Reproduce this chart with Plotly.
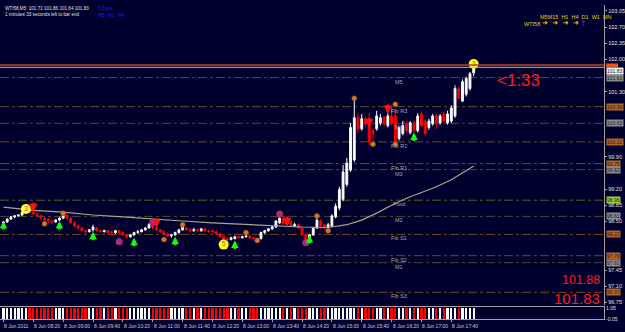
import plotly.graph_objects as go

BG = "#00002e"

# ---------------- data ----------------
bar_open = [98.43, 98.49, 98.55, 98.60, 98.62, 98.64, 98.70, 98.74, 98.70, 98.66,
            98.62, 98.57, 98.55, 98.51, 98.49, 98.53, 98.57, 98.64, 98.57, 98.47,
            98.40, 98.36, 98.30, 98.28, 98.32, 98.36, 98.30, 98.28, 98.30, 98.28,
            98.26, 98.30, 98.26, 98.21, 98.17, 98.21, 98.26, 98.28, 98.32, 98.36,
            98.43, 98.36, 98.32, 98.28, 98.23, 98.19, 98.21, 98.26, 98.32, 98.36,
            98.32, 98.30, 98.32, 98.30, 98.34, 98.30, 98.30, 98.28, 98.23, 98.17,
            98.13, 98.11, 98.13, 98.17, 98.15, 98.17, 98.19, 98.15, 98.13, 98.13,
            98.26, 98.30, 98.34, 98.38, 98.47, 98.57, 98.45, 98.49, 98.40, 98.43,
            98.36, 98.21, 98.13, 98.21, 98.36, 98.51, 98.43, 98.36, 98.40, 98.60,
            98.79, 98.98, 99.30, 99.61, 99.83, 100.74, 100.50, 100.72, 100.67, 100.46,
            100.50, 100.63, 100.74, 100.57, 100.78, 100.78, 100.29, 100.40, 100.61, 100.42,
            100.63, 100.46, 100.82, 100.67, 100.53, 100.61, 100.78, 100.63, 100.82, 100.63,
            100.67, 100.78, 101.37, 101.10, 101.25, 101.37, 101.71]
bar_high = [98.51, 98.57, 98.62, 98.64, 98.66, 98.72, 98.79, 98.77, 98.72, 98.68,
            98.64, 98.60, 98.57, 98.53, 98.55, 98.60, 98.68, 98.66, 98.60, 98.49,
            98.43, 98.38, 98.32, 98.34, 98.43, 98.38, 98.32, 98.32, 98.32, 98.30,
            98.32, 98.32, 98.28, 98.23, 98.23, 98.28, 98.32, 98.34, 98.38, 98.47,
            98.45, 98.38, 98.34, 98.30, 98.26, 98.23, 98.28, 98.34, 98.40, 98.38,
            98.34, 98.36, 98.34, 98.36, 98.36, 98.32, 98.32, 98.30, 98.26, 98.19,
            98.15, 98.17, 98.19, 98.19, 98.19, 98.21, 98.21, 98.17, 98.15, 98.28,
            98.32, 98.36, 98.40, 98.53, 98.64, 98.60, 98.51, 98.51, 98.47, 98.45,
            98.38, 98.23, 98.23, 98.38, 98.57, 98.55, 98.45, 98.47, 98.66, 98.89,
            99.25, 99.72, 99.87, 100.63, 101.14, 100.84, 100.82, 100.76, 100.84, 100.50,
            100.89, 100.82, 100.78, 100.84, 100.99, 100.93, 100.55, 100.67, 100.65, 100.67,
            100.67, 100.84, 100.87, 100.72, 100.72, 100.82, 100.82, 100.82, 100.87, 100.89,
            101.01, 101.44, 101.40, 101.57, 101.63, 101.73, 101.86]
bar_low = [98.40, 98.47, 98.53, 98.57, 98.60, 98.62, 98.68, 98.68, 98.64, 98.60,
           98.55, 98.51, 98.47, 98.45, 98.47, 98.51, 98.55, 98.55, 98.45, 98.38,
           98.32, 98.28, 98.23, 98.26, 98.28, 98.28, 98.26, 98.26, 98.23, 98.23,
           98.23, 98.21, 98.19, 98.13, 98.15, 98.19, 98.23, 98.26, 98.30, 98.34,
           98.34, 98.30, 98.26, 98.19, 98.17, 98.15, 98.19, 98.23, 98.30, 98.30,
           98.28, 98.28, 98.28, 98.28, 98.28, 98.26, 98.26, 98.21, 98.15, 98.04,
           98.06, 98.09, 98.11, 98.13, 98.13, 98.15, 98.13, 98.11, 98.09, 98.11,
           98.23, 98.28, 98.32, 98.36, 98.45, 98.43, 98.43, 98.38, 98.38, 98.34,
           98.19, 98.06, 98.11, 98.19, 98.34, 98.38, 98.34, 98.32, 98.38, 98.57,
           98.74, 98.94, 99.25, 99.57, 99.78, 100.42, 100.46, 100.55, 100.14, 100.19,
           100.46, 100.57, 100.55, 100.53, 100.57, 100.17, 100.25, 100.36, 100.42, 100.38,
           100.40, 100.42, 100.53, 100.36, 100.48, 100.57, 100.50, 100.59, 100.63, 100.59,
           100.63, 100.74, 101.14, 101.08, 101.20, 101.33, 101.64]
bar_close = [98.49, 98.55, 98.60, 98.62, 98.64, 98.70, 98.74, 98.70, 98.66, 98.62,
             98.57, 98.53, 98.51, 98.49, 98.53, 98.57, 98.64, 98.57, 98.47, 98.40,
             98.36, 98.30, 98.28, 98.32, 98.38, 98.30, 98.28, 98.30, 98.26, 98.26,
             98.30, 98.26, 98.21, 98.17, 98.21, 98.26, 98.28, 98.32, 98.36, 98.43,
             98.36, 98.32, 98.28, 98.23, 98.19, 98.21, 98.26, 98.32, 98.38, 98.32,
             98.30, 98.32, 98.30, 98.34, 98.30, 98.28, 98.28, 98.23, 98.17, 98.09,
             98.11, 98.15, 98.17, 98.15, 98.17, 98.19, 98.15, 98.13, 98.11, 98.26,
             98.30, 98.34, 98.38, 98.51, 98.57, 98.45, 98.49, 98.40, 98.43, 98.36,
             98.21, 98.11, 98.21, 98.36, 98.53, 98.40, 98.36, 98.43, 98.62, 98.83,
             99.19, 99.57, 99.76, 100.53, 100.74, 100.50, 100.72, 100.61, 100.21, 100.40,
             100.78, 100.74, 100.61, 100.78, 100.63, 100.21, 100.53, 100.57, 100.46, 100.63,
             100.46, 100.78, 100.57, 100.40, 100.67, 100.78, 100.63, 100.78, 100.67, 100.82,
             100.95, 101.37, 101.16, 101.52, 101.59, 101.69, 101.83]

# moving average, read at a few bars
ma_bar = [0, 8, 16, 24, 32, 40, 48, 56, 64, 72, 80, 86, 88, 92, 96, 100, 104, 108, 112, 116, 120, 124, 126]
ma_val = [98.81, 98.74, 98.70, 98.64, 98.60, 98.55, 98.51, 98.47, 98.44, 98.40, 98.38, 98.37,
          98.38, 98.43, 98.53, 98.68, 98.85, 99.00, 99.13, 99.25, 99.40, 99.59, 99.70]

# pivot levels
piv_names = ["M5", "Fib R3", "M4", "Fib R2", "Fib R1", "M3", "Pivot", "M2", "Fib S1", "Fib S2", "M1", "Fib S3"]
piv_values = [101.61, 100.98, 100.62, 100.22, 99.75, 99.62, 98.96, 98.61, 98.22, 97.76, 97.61, 96.97]
piv_kind = ["m", "fib", "m", "fib", "fib", "m", "p", "m", "fib", "fib", "m", "fib"]

# markers
orange_bar = [11, 16, 43, 48, 65, 68, 84, 87, 94, 99, 105, 105]
orange_val = [98.45, 98.68, 98.11, 98.43, 98.26, 98.09, 98.62, 98.30, 101.16, 100.17, 101.03, 100.17]
magenta_bar = [31, 40, 74, 81]
magenta_val = [98.06, 98.49, 98.66, 98.04]
yellow_bar = [6, 59, 126]
yellow_val = [98.77, 98.00, 101.90]
yellow_txt = ["3", "5", "3"]
buy_bar = [0, 15, 24, 35, 46, 62, 82, 110]
buy_val = [98.51, 98.51, 98.28, 98.15, 98.17, 98.09, 98.21, 100.42]
sell_bar = [8, 41, 76, 98, 103]
sell_val = [98.70, 98.36, 98.40, 100.53, 100.82]

# axis labels (labels hidden under the level boxes are left out)
price_ticks = [103.05, 102.70, 102.35, 102.00, 101.30, 99.90, 99.20, 98.85, 98.50,
               97.45, 97.10, 96.75]
time_bar = [0, 8, 16, 24, 32, 40, 48, 56, 64, 72, 80, 88, 96, 104, 112, 120]
time_txt = ["8 Jun 2011", "8 Jun 08:20", "8 Jun 09:00", "8 Jun 09:40", "8 Jun 10:20", "8 Jun 11:00",
            "8 Jun 11:40", "8 Jun 12:20", "8 Jun 13:00", "8 Jun 13:40", "8 Jun 14:20", "8 Jun 15:00",
            "8 Jun 15:40", "8 Jun 16:20", "8 Jun 17:00", "8 Jun 17:40"]
bid = 101.83
ask = 101.88

# ---------------- figure ----------------
n = len(bar_close)
idx = list(range(n))
XD = [0, 607 / 625]
XR = [-0.93, 160.94]

fig = go.Figure()
fig.add_trace(go.Candlestick(
    x=idx, open=bar_open, high=bar_high, low=bar_low, close=bar_close,
    increasing=dict(line=dict(color="#ffffff", width=1), fillcolor="#ffffff"),
    decreasing=dict(line=dict(color="#ff0000", width=1), fillcolor="#ff0000"),
    whiskerwidth=0, showlegend=False, hoverinfo="skip", xaxis="x", yaxis="y"))

fig.add_trace(go.Scatter(x=ma_bar, y=ma_val, mode="lines",
                         line=dict(color="#a9a58c", width=1.2), showlegend=False, hoverinfo="skip"))

fig.add_trace(go.Scatter(x=orange_bar, y=orange_val, mode="markers",
                         marker=dict(size=5, color="#d07a30", line=dict(color="#8a4a10", width=0.6)),
                         showlegend=False, hoverinfo="skip"))
fig.add_trace(go.Scatter(x=magenta_bar, y=magenta_val, mode="markers",
                         marker=dict(size=7, color="#a82c78", line=dict(width=0)),
                         showlegend=False, hoverinfo="skip"))
fig.add_trace(go.Scatter(x=yellow_bar, y=yellow_val, mode="markers+text", text=yellow_txt,
                         textposition="middle center",
                         textfont=dict(size=7, color="#e04060", family="Liberation Sans"),
                         marker=dict(size=10, color="#ffff20", line=dict(width=0)),
                         showlegend=False, hoverinfo="skip"))

# indicator panel
ind_val = [1] * n
ind_col = ["#ffffff" if c >= o else "#ff0000" for o, c in zip(bar_open, bar_close)]
fig.add_trace(go.Bar(x=idx, y=ind_val, marker=dict(color=ind_col, line=dict(width=0)), width=0.6,
                     xaxis="x2", yaxis="y2", showlegend=False, hoverinfo="skip"))

shapes = []
ann = []
LBL = "Liberation Sans"

kind_line = {"fib": "#6e4a22", "m": "#4a4a3c", "p": "#56661a"}
kind_box = {"fib": "#b8622a", "m": "#8a8a8a", "p": "#a0d030"}
for name, v, k in zip(piv_names, piv_values, piv_kind):
    shapes.append(dict(type="line", xref="x domain", yref="y", x0=0, x1=1, y0=v, y1=v,
                       line=dict(color=kind_line[k], width=1, dash="dashdot"), layer="below"))
    ann.append(dict(x=106, y=v, xref="x", yref="y", text=name, showarrow=False,
                    xanchor="center", yanchor="top", yshift=1,
                    font=dict(size=5.5, color="#a8a8a8", family=LBL)))
    ann.append(dict(x=609 / 625, y=v, xref="paper", yref="y", text=f"{v:.2f}", showarrow=False,
                    xanchor="left", yanchor="middle", bgcolor=kind_box[k], borderpad=0,
                    font=dict(size=5, color="#202020", family=LBL)))

# bid / ask lines and markers on the price scale
shapes.append(dict(type="line", xref="x domain", yref="y", x0=0, x1=1, y0=ask, y1=ask,
                   line=dict(color="#b8401a", width=1.5)))
shapes.append(dict(type="line", xref="x domain", yref="y", x0=0, x1=1, y0=bid, y1=bid,
                   line=dict(color="#b8b8b8", width=1)))
shapes.append(dict(type="rect", xref="paper", yref="y", x0=609 / 625, x1=621 / 625,
                   y0=bid, y1=ask + 0.03, fillcolor="#e05a20", line=dict(width=0), layer="above"))
ann.append(dict(x=609 / 625, y=bid + 0.015, xref="paper", yref="y", text=f"{bid:.2f}", showarrow=False,
                xanchor="left", yanchor="top", bgcolor="#f0f0f0", borderpad=0,
                font=dict(size=5, color="#202020", family=LBL)))

# arrows
for b, v in zip(buy_bar, buy_val):
    ann.append(dict(x=b, y=v, xref="x", yref="y", text="", showarrow=True, ax=0, ay=10,
                    arrowhead=2, arrowsize=0.6, arrowwidth=2.5, arrowcolor="#10ff10", standoff=0))
for b, v in zip(sell_bar, sell_val):
    ann.append(dict(x=b, y=v, xref="x", yref="y", text="", showarrow=True, ax=0, ay=-11,
                    arrowhead=2, arrowsize=0.65, arrowwidth=2.6, arrowcolor="#ff1010", standoff=0))

# time labels
for b, t in zip(time_bar, time_txt):
    ann.append(dict(x=b, y=1 - 324 / 332, xref="x2", yref="paper", text=t, showarrow=False,
                    xanchor="left", yanchor="top", xshift=-1,
                    font=dict(size=5, color="#d0d0d0", family=LBL)))

# texts
ann += [
    dict(x=3 / 625, y=1 - 1 / 332, xref="paper", yref="paper",
         text="WTI58,M5  101.71 101.86 101.64 101.83", showarrow=False, xanchor="left", yanchor="top",
         font=dict(size=4.6, color="#e0e0e0", family=LBL)),
    dict(x=3 / 625, y=1 - 7 / 332, xref="paper", yref="paper",
         text="1 minutes 33 seconds left to bar end", showarrow=False, xanchor="left", yanchor="top",
         font=dict(size=4.6, color="#e0e0e0", family=LBL)),
    dict(x=96 / 625, y=1 - 1 / 332, xref="paper", yref="paper", text="5 Days", showarrow=False,
         xanchor="left", yanchor="top", font=dict(size=4.6, color="#2020e0", family=LBL)),
    dict(x=96 / 625, y=1 - 8 / 332, xref="paper", yref="paper", text="M5   H1   H4", showarrow=False,
         xanchor="left", yanchor="top", font=dict(size=4.6, color="#2020e0", family=LBL)),
    dict(x=541 / 625, y=1 - 9 / 332, xref="paper", yref="paper", text="M5M15  H1  H4  D1  W1  MN",
         showarrow=False, xanchor="left", yanchor="top", font=dict(size=5.5, color="#e8d020", family=LBL)),
    dict(x=525 / 625, y=1 - 16 / 332, xref="paper", yref="paper", text="WTI58", showarrow=False,
         xanchor="left", yanchor="top", font=dict(size=5.5, color="#e8d020", family=LBL)),
    dict(x=543 / 625, y=1 - 14 / 332, xref="paper", yref="paper", text="➜  ➜  ➜  ➜", showarrow=False,
         xanchor="left", yanchor="top", font=dict(size=7, color="#f0d020", family="DejaVu Sans")),
    dict(x=581 / 625, y=1 - 14 / 332, xref="paper", yref="paper", text="↑", showarrow=False,
         xanchor="left", yanchor="top", font=dict(size=8, color="#2040ff", family="DejaVu Sans")),
    dict(x=497 / 625, y=1 - 67 / 332, xref="paper", yref="paper", text="<1:33", showarrow=False,
         xanchor="left", yanchor="top", font=dict(size=17, color="#ff1a1a", family=LBL)),
    dict(x=604 / 625, y=1 - 274 / 332, xref="paper", yref="paper", text=f"{ask:.2f}", showarrow=False,
         xanchor="right", yanchor="top", borderpad=0, font=dict(size=12.5, color="#ff1a1a", family=LBL)),
    dict(x=604 / 625, y=1 - 311 / 332, xref="paper", yref="paper", text=f"{bid:.2f}", showarrow=False,
         xanchor="right", yanchor="bottom", borderpad=0, font=dict(size=15, color="#ff1a1a", family=LBL)),
]

fig.update_layout(
    width=625, height=332, margin=dict(l=0, r=0, t=0, b=0),
    paper_bgcolor=BG, plot_bgcolor=BG, showlegend=False, bargap=0,
    xaxis=dict(domain=XD, range=XR, anchor="y", visible=False, rangeslider=dict(visible=False),
               fixedrange=True),
    yaxis=dict(domain=[1 - 308 / 332, 1 - 2 / 332], range=[96.686, 103.177], anchor="x", side="right",
               showgrid=False, zeroline=False, tickvals=price_ticks,
               ticktext=[f"{t:.2f}" for t in price_ticks],
               tickfont=dict(size=5.5, color="#e0e0e0", family=LBL), ticks="outside", ticklen=2,
               tickcolor="#a0a0a0", showline=True, linecolor="#a0a0a0", linewidth=1),
    xaxis2=dict(domain=XD, range=XR, anchor="y2", showgrid=False, zeroline=False,
                tickvals=time_bar, showticklabels=False, ticks="outside", ticklen=2, tickcolor="#a0a0a0",
                showline=True, mirror=True, linecolor="#a0a0a0", linewidth=1),
    yaxis2=dict(domain=[1 - 322 / 332, 1 - 310 / 332], range=[0, 1.05], anchor="x2", side="right",
                showgrid=False, zeroline=False, tickvals=[1.0, 0.0], ticktext=["1.05", "-0.05"],
                tickfont=dict(size=5, color="#e0e0e0", family=LBL), ticks="",
                showline=True, linecolor="#a0a0a0", linewidth=1),
    shapes=shapes, annotations=ann,
)

fig.write_html("out.html")
